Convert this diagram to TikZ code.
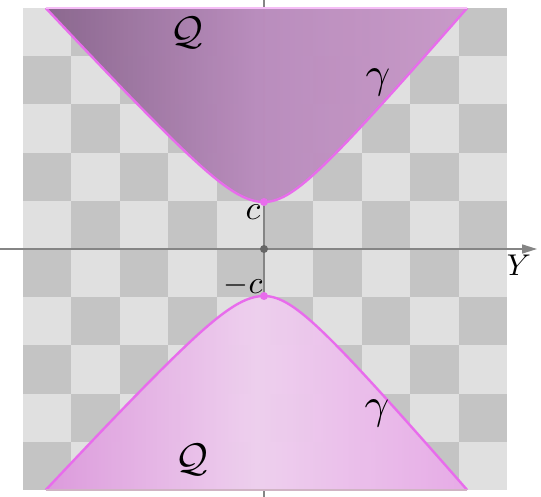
\documentclass[tikz,border=0pt]{standalone}
\usetikzlibrary{arrows.meta}
\usepackage{graphicx}
\definecolor{lightsq}{HTML}{E0E0E0}
\definecolor{darksq}{HTML}{C4C4C4}
\definecolor{edgemag}{HTML}{E86CEC}
\definecolor{axisgray}{HTML}{858585}
\definecolor{upL}{HTML}{96709A}
\definecolor{upM}{HTML}{C898CC}
\definecolor{upR}{HTML}{D8A6D8}
\definecolor{loL}{HTML}{EAA4EA}
\definecolor{loM}{HTML}{FCDCFC}
\definecolor{loR}{HTML}{F4B6F4}
\begin{document}
\begin{tikzpicture}[x=1pt,y=-1pt,
  lbl/.style={inner sep=0pt},
  vdot/.style={circle, fill=edgemag, inner sep=0pt, minimum size=8pt},
  odot/.style={circle, fill=black!60, inner sep=0pt, minimum size=8pt},
  axisline/.style={draw=axisgray, line width=1.6pt},
  rim/.style={draw=edgemag, line width=2.4pt},
]
\useasboundingbox (0,0) rectangle (541,497);
\fill[white] (0,0) rectangle (541,497);
% checkerboard
\foreach \i in {0,...,9}{
  \foreach \j in {0,...,9}{
    \pgfmathtruncatemacro{\parity}{mod(\i+\j,2)}
    \ifnum\parity=0 \def\sqc{lightsq}\else\def\sqc{darksq}\fi
    \fill[\sqc] ({23+48.4*\i},{8+48.2*\j}) rectangle ({23+48.4*(\i+1)},{8+48.2*(\j+1)});
  }
}
% axes
\coordinate (vtop) at (264,0);
\coordinate (vbot) at (264,497);
\coordinate (hleft) at (0,249);
\coordinate (hright) at (537,249);
\draw[axisline] (vtop) -- (vbot);
\draw[axisline, -{Triangle[length=15pt,width=9pt]}] (hleft) -- (hright);
% regions
\def\upperpath{plot[domain=-2.318:0, samples=40] ({264+43.4*sinh(\x)},{249-47*cosh(\x)}) -- plot[domain=0:2.318, samples=40] ({264+40.4*sinh(\x)},{249-47*cosh(\x)})}
\def\lowerpath{plot[domain=-2.318:0, samples=40] ({264+43.4*sinh(\x)},{249+47*cosh(\x)}) -- plot[domain=0:2.318, samples=40] ({264+40.4*sinh(\x)},{249+47*cosh(\x)})}
\fill[left color=upL, right color=upR, middle color=upM, opacity=0.92] \upperpath -- cycle;
\draw[rim] \upperpath;
\draw[draw=edgemag!45, line width=1.6pt] (46,8) -- (467,8);
\fill[left color=loL, right color=loR, middle color=loM, opacity=0.94] \lowerpath -- cycle;
\draw[rim] \lowerpath;
\draw[draw=magenta!25!gray!55, line width=1.6pt] (46,490) -- (467,490);
% points
\node[vdot] (pc) at (264,202) {};
\node[vdot] (pmc) at (264,296) {};
\node[odot] (orig) at (264,249) {};
% labels
\node[lbl] (lc) at (253,212) {\scalebox{3.4}{$c$}};
\node[lbl] (lmc) at (243,285) {\scalebox{3.2}{$-c$}};
\node[lbl] (lY) at (519,265) {\scalebox{3.0}{$Y$}};
\node[lbl] (q1) at (187,33) {\scalebox{4.0}{$\mathcal{Q}$}};
\node[lbl] (q2) at (192,460) {\scalebox{4.0}{$\mathcal{Q}$}};
\node[lbl] (g1) at (378,82) {\scalebox{4.3}{$\gamma$}};
\node[lbl] (g2) at (377,413) {\scalebox{4.3}{$\gamma$}};
\end{tikzpicture}
\end{document}
